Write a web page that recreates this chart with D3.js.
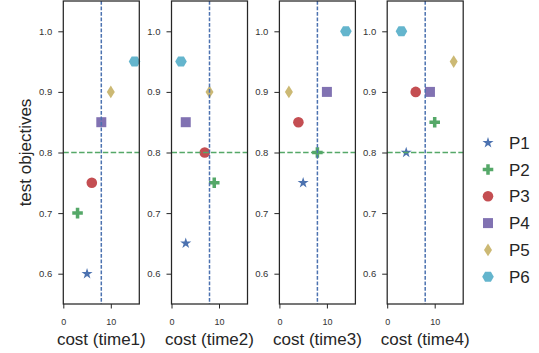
<!DOCTYPE html>
<html>
<head>
<meta charset="utf-8">
<script src="https://cdn.jsdelivr.net/npm/d3@7"></script>
<style>
	body { margin: 0; background: #fff; }
	svg { display: block; font-family: "Liberation Sans", Arial, sans-serif; }
</style>
</head>
<body>
<div id="chart"></div>
<script>
// series names and colours (seaborn deep)
var series = ["P1", "P2", "P3", "P4", "P5", "P6"];
var colors = ["#4C72B0", "#55A868", "#C44E52", "#8172B2", "#CCB974", "#64B5CD"];
var shapes = ["star", "plus", "circle", "square", "diamond", "hexagon"];

var panels = ["cost (time1)", "cost (time2)", "cost (time3)", "cost (time4)"];

// cost per panel, one value for each of P1..P6
var cost1 = [5, 3, 6, 8, 10, 15];
var cost2 = [3, 9, 7, 3, 8, 2];
var cost3 = [5, 8, 4, 10, 2, 14];
var cost4 = [4, 10, 6, 9, 14, 3];

// test objectives per panel
var obj1 = [0.60, 0.70, 0.75, 0.85, 0.90, 0.95];
var obj2 = [0.65, 0.75, 0.80, 0.85, 0.90, 0.95];
var obj3 = [0.75, 0.80, 0.85, 0.90, 0.90, 1.00];
var obj4 = [0.80, 0.85, 0.90, 0.90, 0.95, 1.00];

var yTicks = [0.6, 0.7, 0.8, 0.9, 1.0];
var xTicks = [0, 10];
var costLimit = 8,
	objLimit = 0.8;

var costs = [cost1, cost2, cost3, cost4],
	objs = [obj1, obj2, obj3, obj4];

var width = 539,
	height = 353,
	plotTop = 1,
	plotBottom = 304,
	pw = 76,
	lefts = [63.3, 171.5, 279.4, 387.2];

var svg = d3.select("#chart").append("svg")
	.attr("width", width)
	.attr("height", height);

function marker(shape) {
	var p;
	switch (shape) {
		case "star": return d3.symbol(d3.symbolStar, 38)();
		case "plus": return d3.symbol(d3.symbolCross, 62)();
		case "circle": return d3.symbol(d3.symbolCircle, 88)();
		case "square": return d3.symbol(d3.symbolSquare, 100)();
		case "diamond":
			p = d3.path();
			p.moveTo(0, -6.4); p.lineTo(4, 0); p.lineTo(0, 6.4); p.lineTo(-4, 0); p.closePath();
			return p.toString();
		case "hexagon":
			p = d3.path();
			for (var k = 0; k < 6; k++) {
				var a = k * Math.PI / 3,
					px = 5.8 * Math.cos(a), py = 5.8 * Math.sin(a);
				if (k == 0) p.moveTo(px, py); else p.lineTo(px, py);
			}
			p.closePath();
			return p.toString();
	}
}

var y = d3.scaleLinear().domain([0.55, 1.05]).range([plotBottom, plotTop]);

panels.forEach(function (label, i) {
	var x = d3.scaleLinear().domain([0, 16]).range([0, pw]);
	var g = svg.append("g").attr("transform", "translate(" + lefts[i] + ",0)");

	var pts = series.map(function (s, j) {
		return { s: s, c: costs[i][j], o: objs[i][j], j: j };
	});

	g.selectAll("path.pt")
		.data(pts)
		.join("path")
		.attr("class", "pt")
		.attr("transform", function (d) { return "translate(" + x(d.c) + "," + y(d.o) + ")"; })
		.attr("d", function (d) { return marker(shapes[d.j]); })
		.attr("fill", function (d) { return colors[d.j]; });

	g.append("line")
		.attr("x1", x(costLimit)).attr("x2", x(costLimit))
		.attr("y1", plotTop).attr("y2", plotBottom)
		.attr("stroke", colors[0])
		.attr("stroke-width", 1.5)
		.attr("stroke-dasharray", "3.7,1.8");

	g.append("line")
		.attr("x1", 0).attr("x2", pw)
		.attr("y1", y(objLimit)).attr("y2", y(objLimit))
		.attr("stroke", colors[1])
		.attr("stroke-width", 1.5)
		.attr("stroke-dasharray", "5.5,2.4");

	var yAxis = g.append("g")
		.call(d3.axisLeft(y).tickValues(yTicks).tickFormat(d3.format(".1f")).tickSize(5).tickPadding(6));
	var xAxis = g.append("g")
		.attr("transform", "translate(0," + plotBottom + ")")
		.call(d3.axisBottom(x).tickValues(xTicks).tickSize(4.5).tickPadding(10));

	[yAxis, xAxis].forEach(function (ax) {
		ax.select(".domain").remove();
		ax.selectAll("line").attr("stroke", "#262626").attr("stroke-width", 1);
		ax.selectAll("text").attr("fill", "#333").style("font-size", "9.5px")
			.style("font-family", "'Liberation Sans', Arial, sans-serif");
	});
	xAxis.selectAll("text").style("font-size", "9px");

	g.append("rect")
		.attr("x", 0).attr("y", plotTop)
		.attr("width", pw).attr("height", plotBottom - plotTop)
		.attr("fill", "none")
		.attr("stroke", "#262626")
		.attr("stroke-width", 1.25);

	g.append("text")
		.attr("x", pw / 2)
		.attr("y", 345)
		.attr("text-anchor", "middle")
		.attr("fill", "#262626")
		.style("font-size", "17px")
		.text(label);
});

svg.append("text")
	.attr("transform", "translate(31," + ((plotTop + plotBottom) / 2) + ") rotate(-90)")
	.attr("text-anchor", "middle")
	.attr("fill", "#262626")
	.style("font-size", "17px")
	.text("test objectives");

// legend
var legend = svg.append("g").attr("transform", "translate(488,142.7)");
var rows = legend.selectAll("g")
	.data(series)
	.join("g")
	.attr("transform", function (d, i) { return "translate(0," + (i * 26.8) + ")"; });
rows.append("path")
	.attr("d", function (d, i) { return marker(shapes[i]); })
	.attr("fill", function (d, i) { return colors[i]; });
rows.append("text")
	.attr("x", 21)
	.attr("y", 6)
	.attr("fill", "#262626")
	.style("font-size", "17px")
	.text(function (d) { return d; });
</script>
</body>
</html>
